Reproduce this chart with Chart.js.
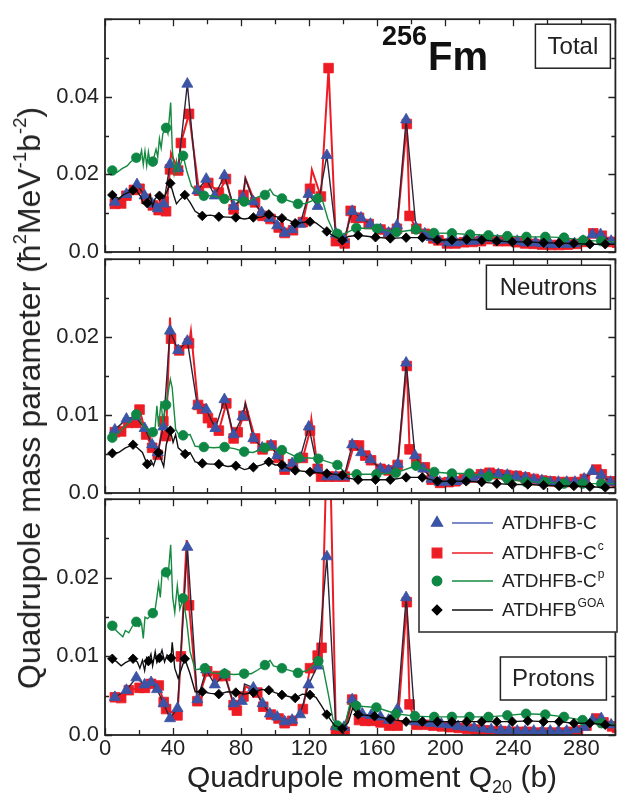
<!DOCTYPE html>
<html>
<head>
<meta charset="utf-8">
<script src="https://cdn.jsdelivr.net/npm/chart.js@4.4.1/dist/chart.umd.min.js"></script>
<style>
  body { margin: 0; background: #fff; }
  #wrap { position: relative; width: 623px; height: 798px; overflow: hidden; background: #fff;
          font-family: "Liberation Sans", Arial, sans-serif; color: #222; }
  canvas.panel { position: absolute; left: 0; }
  #ytitle { position: absolute; left: 29px; top: 398px; white-space: nowrap; font-size: 32px; line-height: 1;
            transform: translate(-50%, -50%) rotate(-90deg); }
  #xtitle { position: absolute; left: 372px; top: 762px; white-space: nowrap; font-size: 30px; line-height: 1;
            transform: translateX(-50%); }
  sup { font-size: 58%; vertical-align: 0.75em; line-height: 0; }
  sub { font-size: 60%; vertical-align: -0.35em; line-height: 0; }
</style>
</head>
<body>
<div id="wrap">
  <canvas id="totalChart" class="panel" width="623" height="275" style="top:0px"></canvas>
  <canvas id="neutronChart" class="panel" width="623" height="275" style="top:240px"></canvas>
  <canvas id="protonChart" class="panel" width="623" height="318" style="top:480px"></canvas>
  <div id="ytitle">Quadrupole mass parameter (ħ<sup>2</sup>MeV<sup>-1</sup>b<sup>-2</sup>)</div>
  <div id="xtitle">Quadrupole moment Q<sub>20</sub> (b)</div>
</div>
<script>
// Each point: [Q20 (b), mass parameter, 1 = marker drawn / 0 = line only]
const Q_MAX = 300;
const X_TICKS = [0, 40, 80, 120, 160, 200, 240, 280];

// ---- Total ----
const totalC = [
  [5.8,.0129,1],[12.6,.0149,1],[18.8,.0174,1],[23.3,.0145,1],[27.7,.0124,1],[31,.0112,1],[34.5,.0124,1],
  [38.2,.0226,1],[43,.0216,1],[48.4,.0433,1],[54.3,.0158,1],[59.5,.0188,1],[64.5,.0145,1],[70.2,.0197,1],
  [75.6,.0118,1],[81,.0141,1],[82.5,.019,0],[87.2,.013,1],[92,.0102,1],[96.9,.0087,1],[101.2,.0068,1],
  [105.6,.0049,1],[110,.0058,1],[114.7,.0072,1],[119.6,.0149,1],[125,.0118,1],[130.4,.0249,1],[135.7,.0047,1],
  [140.5,.0033,1],[145.3,.0105,1],[150.5,.0088,1],[156,.0072,1],[161.9,.0058,1],[166.7,.0049,1],[171.6,.0068,1],
  [177,.0341,1],[182.8,.0062,1],[188,.0047,1],[192,.0038,1],[195.8,.0033,1],[201.6,.0024,1],[206.4,.0024,1],
  [211.3,.0028,1],[216.1,.0028,1],[220,.003,1],[224.8,.0036,1],[230.7,.003,1],[236.5,.0031,1],[242.3,.0028,1],
  [247.1,.0024,1],[253,.0024,1],[256.8,.0022,1],[261.7,.002,1],[266.5,.002,1],[272.3,.002,1],[276,.0022,1],
  [281,.0028,1],[286.5,.0045,1],[291.3,.0045,1],[297.5,.0028,1]
];
const totalCc = [
  [5.8,.0124,1],[9.5,.0125,1],[12.6,.0145,1],[17,.016,1],[20.3,.0163,1],[24.2,.0137,1],[28.1,.012,1],
  [31.5,.0108,1],[34.5,.013,1],[35.9,.0105,1],[38.2,.0213,1],[38.8,.0255,0],[43,.021,1],[44.6,.0281,1],
  [49.4,.0356,1],[55.2,.0158,1],[60.7,.0178,1],[66.9,.0153,1],[71.1,.0188,1],[75.6,.011,1],[81.4,.0147,1],
  [82.5,.019,0],[88.2,.0128,1],[92.6,.0093,1],[97.3,.0085,1],[102.1,.0063,1],[105.6,.0049,1],[110.5,.0056,1],
  [116.3,.0077,1],[120.5,.0163,1],[121.6,.0212,0],[126.9,.0143,1],[131.4,.0474,1],[135.7,.0028,1],[140.9,.0022,1],
  [144.4,.0106,1],[147.3,.0088,1],[149.3,.0088,1],[155,.0072,1],[161.9,.0058,1],[166.7,.0049,1],[171.6,.006,1],
  [177.4,.033,1],[179,.0093,1],[183,.006,1],[188,.0047,1],[193,.0035,1],[196,.003,1],[201,.0022,1],[206,.0022,1],
  [211,.0025,1],[216,.0026,1],[221,.0028,1],[225,.0033,1],[231,.0028,1],[236,.0028,1],[242,.0025,1],[247,.0022,1],
  [252,.0021,1],[257,.0019,1],[262,.0018,1],[267,.0018,1],[272,.0019,1],[277,.0021,1],[282,.0026,1],[287,.0048,1],
  [292,.0042,1],[297,.0026,1],[301,.0024,1]
];
const totalCp = [
  [4.3,.021,1],[7,.0205,0],[10,.0215,0],[13,.0222,0],[15,.0232,0],[18.4,.0243,1],[20,.0235,0],[21.5,.0262,0],
  [22.5,.0225,0],[23.5,.026,0],[24.5,.0222,0],[25.5,.0258,0],[26.5,.023,0],[28.1,.0233,1],[30,.0265,0],
  [31,.0245,0],[32,.0292,0],[33,.0268,0],[34,.0305,0],[35.9,.032,1],[37,.0305,0],[38.6,.0385,0],[39.5,.027,0],
  [40.7,.0203,0],[42,.0235,0],[43,.0205,0],[45.9,.0248,1],[48,.021,0],[50.8,.017,0],[53.3,.0158,0],[58.1,.0145,1],
  [63,.0145,0],[70.2,.0137,1],[76,.0135,0],[81.8,.013,1],[86,.0133,0],[90,.0142,0],[94,.0147,1],[97,.0162,0],
  [99,.0148,0],[104,.0138,1],[108,.0132,0],[113.4,.0124,1],[118,.0125,0],[125,.0138,1],[128,.013,0],[131,.0085,0],
  [134,.0055,0],[136.6,.0047,1],[140,.0045,0],[143,.0052,0],[147.7,.0062,1],[159.9,.006,1],[171.2,.0051,1],
  [182.8,.0058,1],[193.3,.0049,1],[203.9,.0048,1],[214.6,.0045,1],[225.4,.0043,1],[236.5,.0041,1],[247.7,.0039,1],
  [258.8,.0039,1],[269.8,.0037,1],[281,.003,1],[291.7,.0028,1],[300,.0026,0]
];
const totalGOA = [
  [4.3,.0147,1],[8,.0138,0],[11,.0148,0],[16.5,.0159,1],[19,.0155,0],[21,.0143,0],[22.5,.0125,0],[24.8,.0126,1],
  [26.5,.0148,0],[28,.0118,0],[29.5,.0138,0],[32,.0145,1],[34,.0138,0],[35.5,.0147,0],[38.4,.0177,1],[40.5,.0145,0],
  [42,.0124,0],[44,.0135,0],[46.9,.0147,1],[50,.0128,0],[53,.0105,0],[57.2,.0093,1],[62,.0095,0],[66.9,.0091,1],
  [72,.009,0],[76.9,.0089,1],[82,.0085,0],[87.2,.0089,1],[92,.009,0],[96.3,.0097,1],[100,.0092,0],[104,.0087,1],
  [108,.0082,0],[111.8,.0074,1],[116,.0076,0],[120.5,.0078,1],[124,.0075,0],[127,.0065,0],[130.4,.0053,1],
  [134,.0042,0],[139.5,.003,1],[143,.004,0],[148.8,.0043,1],[159,.0038,1],[167.7,.0035,1],[177,.0037,1],
  [186.5,.0037,1],[195.4,.0031,1],[203.9,.0031,1],[212.6,.0032,1],[221.4,.0031,1],[230.3,.0028,1],[239.4,.0026,1],
  [248.5,.0026,1],[257.8,.0024,1],[266.9,.0023,1],[275.6,.0022,1],[285,.002,1],[294,.002,1],[300,.002,0]
];

// ---- Neutrons ----
const neutronC = [
  [5.8,.0081,1],[12.6,.0095,1],[18,.0098,1],[23.3,.0083,1],[27.7,.0062,1],[31,.0052,1],[34.3,.0085,1],
  [38.2,.0208,1],[43,.0183,1],[48.4,.0195,1],[54.3,.0112,1],[59.5,.0107,1],[64.9,.0083,1],[70.2,.012,1],
  [75.6,.0075,1],[80.8,.0098,1],[82.5,.0115,0],[87.2,.007,1],[92.4,.0058,1],[97.5,.0061,1],[101.2,.0048,1],
  [105.6,.0032,1],[110,.0038,1],[114.7,.0045,1],[119.8,.0085,1],[125,.0031,1],[130.4,.0021,1],[135.7,.0021,1],
  [140.5,.0021,1],[145.3,.0062,1],[150.6,.0052,1],[156,.0043,1],[161.9,.0031,1],[166.7,.0029,1],[172.1,.0037,1],
  [177,.0167,1],[182.2,.0048,1],[187.1,.0031,1],[191.9,.0018,1],[196.7,.0014,1],[201.6,.0014,1],[206.4,.0015,1],
  [211.3,.0017,1],[216.1,.002,1],[221,.0023,1],[225.8,.0024,1],[231.2,.0024,1],[236.5,.0023,1],[241.7,.0021,1],
  [247.1,.002,1],[252,.0017,1],[256.8,.0016,1],[261.7,.0014,1],[266.5,.0014,1],[271.4,.0014,1],[276.2,.0014,1],
  [281.6,.0018,1],[286.5,.0028,1],[291.7,.0023,1],[297.1,.0014,1]
];
const neutronCc = [
  [5.8,.0078,1],[9.5,.0079,1],[13.6,.009,1],[18.4,.009,1],[20.3,.0107,1],[24.2,.0075,1],[27.7,.0058,1],
  [31,.0049,1],[34.3,.0092,1],[35.9,.0073,1],[38.2,.0225,0],[38.8,.0198,1],[43.6,.0183,1],[49.4,.0192,1],
  [50.5,.0208,0],[54.7,.0113,1],[57,.0108,1],[60.5,.0096,1],[63,.009,1],[66.9,.008,1],[71.3,.0115,1],
  [75.6,.007,1],[78,.0078,1],[81.4,.0099,1],[82.5,.0115,0],[88.2,.007,1],[92.6,.0056,1],[97.9,.0061,1],
  [102,.0045,1],[105.6,.003,1],[110.5,.0037,1],[116.3,.0045,1],[120.5,.008,1],[121.3,.0095,0],[125,.0031,1],
  [127,.0021,1],[131.4,.0021,1],[135.7,.0021,1],[140.9,.0021,1],[146.3,.0061,1],[149.3,.0061,1],[153,.0048,1],
  [156.4,.0042,1],[161.9,.0031,1],[166.7,.0029,1],[172,.0036,1],[177.4,.0163,1],[179,.0056,1],[183,.0044,1],
  [188,.0033,1],[192,.0017,1],[197,.0013,1],[202,.0014,1],[206,.0015,1],[211,.0018,1],[216,.002,1],[221,.0024,1],
  [226,.0026,1],[231,.0024,1],[236,.0023,1],[242,.0022,1],[247,.002,1],[252,.0018,1],[257,.0016,1],[262,.0015,1],
  [267,.0014,1],[272,.0014,1],[277,.0014,1],[282,.0018,1],[288.8,.003,1],[292,.0024,1],[297,.0015,1],[301,.0014,1]
];
const neutronCp = [
  [4.3,.0071,1],[7,.0075,0],[10,.0082,0],[13,.0088,0],[15,.0092,0],[16.5,.0097,0],[18.4,.0101,1],[21,.0092,0],
  [23,.0085,0],[25,.0082,0],[28.1,.0078,1],[29.5,.0085,0],[30.5,.0112,0],[31.5,.0085,0],[33,.0118,0],[34,.009,0],
  [35.9,.0113,1],[38.4,.0146,0],[39.5,.0135,0],[41.5,.0082,0],[43,.0076,0],[45.9,.0074,1],[50,.0075,0],[53,.006,0],
  [58.1,.0059,1],[64,.0058,0],[70.3,.0059,1],[76,.0057,0],[81.8,.0053,1],[87,.0052,0],[94,.0058,1],[99,.0056,0],
  [104,.0055,1],[109,.005,0],[113.8,.0045,1],[120,.0045,0],[125.4,.0044,1],[131,.004,0],[136.6,.0036,1],
  [142,.0024,0],[147.9,.0024,1],[159.5,.0024,1],[171,.0026,1],[182.8,.0035,1],[193.5,.0027,1],[203.9,.0025,1],
  [214.2,.0025,1],[225.4,.0021,1],[236.5,.0018,1],[247.5,.0014,1],[258.8,.0014,1],[269.8,.0012,1],[280.7,.0012,1],
  [291.7,.0012,1],[300,.0012,0]
];
const neutronGOA = [
  [4.3,.0051,1],[8,.0052,0],[12,.0058,0],[16.5,.0062,1],[19,.0058,0],[22,.0052,0],[24.8,.0037,1],[27,.0042,0],
  [28.5,.0035,0],[30,.0045,0],[31.4,.0052,1],[33,.0043,0],[34.5,.0034,0],[36,.0062,0],[38.4,.008,1],[40,.0065,0],
  [41.5,.0075,0],[43,.0058,0],[47.1,.005,1],[50,.0052,0],[53,.004,0],[57.2,.0038,1],[62,.0037,0],[66.9,.0037,1],
  [72,.0034,0],[76.9,.0035,1],[82,.003,0],[87.2,.0033,1],[92,.0036,0],[96.3,.004,1],[100,.0036,0],[104,.0036,1],
  [108,.0031,0],[111.8,.0029,1],[120.5,.0027,1],[125,.0026,0],[130.4,.0025,1],[139.5,.0023,1],[143,.0019,0],
  [148.8,.0017,1],[159,.0017,1],[167.7,.0017,1],[177,.002,1],[186.5,.002,1],[195.4,.0015,1],[203.9,.0015,1],
  [212.3,.0015,1],[221.4,.0014,1],[230.3,.0012,1],[239.4,.0011,1],[248.5,.0011,1],[257.8,.001,1],[266.9,.0009,1],
  [275.6,.0009,1],[285,.0008,1],[294,.0007,1],[300,.0007,0]
];

// ---- Protons ----
const protonC = [
  [5.8,.0048,1],[12.6,.0057,1],[18.4,.0073,1],[23.3,.0064,1],[27.1,.0067,1],[30.6,.0058,1],[34.5,.004,1],
  [38.2,.0021,1],[42.6,.0034,1],[48.4,.0239,1],[54.3,.0045,1],[59.5,.0083,1],[64.5,.0064,1],[70.2,.0077,1],
  [75.6,.004,1],[80.4,.0043,1],[82,.0065,0],[87.2,.006,1],[92.6,.004,1],[96.9,.0027,1],[101.2,.0023,1],
  [105.6,.0017,1],[110,.0019,1],[114.7,.0026,1],[119.6,.0064,1],[125,.0088,1],[130.4,.0227,1],[135.7,.0011,1],
  [140.5,.001,1],[145.3,.0045,1],[151.2,.0027,1],[156.4,.0025,1],[161.9,.0023,1],[166.7,.0019,1],[171.9,.0033,1],
  [177,.0175,1],[182.2,.0017,1],[187,.0016,1],[191.9,.0015,1],[197.7,.0014,1],[202.6,.0013,1],[207.5,.0011,1],
  [212.3,.001,1],[217,.0009,1],[222,.0008,1],[227,.0007,1],[232.6,.0006,1],[237.5,.0006,1],[242.3,.0005,1],
  [247,.0005,1],[252,.0005,1],[257,.0005,1],[261.7,.0005,1],[266.5,.0005,1],[271.4,.0005,1],[276.5,.0007,1],
  [281.6,.001,1],[286.5,.0019,1],[291.7,.0021,1],[297.5,.0013,1]
];
const protonCc = [
  [5.8,.0048,1],[9.5,.0047,1],[14,.0057,1],[20.3,.006,1],[23.5,.006,1],[27.1,.0065,1],[31.6,.0063,1],
  [34.5,.0042,1],[35.9,.0033,1],[42.6,.0025,1],[44.6,.01,1],[48,.0248,0],[49.4,.0165,1],[54.3,.0043,1],
  [60.1,.0081,1],[66.3,.0075,1],[70.7,.0075,1],[75.6,.0038,1],[77.5,.0031,1],[81.4,.0049,1],[82.5,.0062,0],
  [89.5,.0054,1],[93,.0036,1],[97.5,.0026,1],[102,.0021,1],[105.6,.0015,1],[110,.0018,1],[116.3,.0033,1],
  [120.5,.0085,1],[125,.0101,1],[127.3,.0111,1],[131.4,.045,1],[135.7,.0005,1],[140.9,.0004,1],[145.3,.0045,1],
  [149.3,.0019,1],[153,.0018,1],[157,.0018,1],[162,.0016,1],[167,.0012,1],[172,.0012,1],[177.4,.0169,1],
  [179,.0039,1],[183,.0013,1],[188,.0013,1],[193,.0012,1],[198,.0011,1],[203,.001,1],[208,.0009,1],[213,.0008,1],
  [218,.0007,1],[223,.0006,1],[228,.0005,1],[233,.0005,1],[238,.0004,1],[243,.0004,1],[248,.0004,1],[253,.0003,1],
  [258,.0003,1],[263,.0003,1],[268,.0003,1],[273,.0004,1],[278,.0006,1],[283,.0012,1],[288.8,.0021,1],
  [293,.0016,1],[298,.0011,1],[301,.0009,1]
];
const protonCp = [
  [4.3,.0139,1],[7,.0132,0],[9,.0128,0],[10.5,.0125,0],[12,.0133,0],[14,.013,0],[16,.0138,0],[18.4,.0144,1],
  [20,.0138,0],[21.5,.0142,0],[22.5,.0123,0],[23.5,.015,0],[25,.0148,0],[28.1,.0155,1],[29.5,.016,0],
  [30.5,.0175,0],[31.5,.0192,0],[32.5,.0175,0],[33.5,.0205,0],[35.9,.0207,1],[37,.02,0],[38.6,.0242,0],
  [39.8,.0175,0],[41,.0156,0],[42.5,.019,0],[44,.016,0],[45.9,.0174,1],[48,.0145,0],[50,.0106,0],[53,.0083,0],
  [58.7,.0085,1],[63,.0079,0],[70.3,.0078,1],[76,.0077,0],[81.8,.0078,1],[86,.0078,0],[90,.0083,0],[94,.0089,1],
  [97,.0095,0],[99,.0088,0],[104,.0085,1],[109,.0082,0],[113.4,.0079,1],[119,.0082,0],[125.4,.0094,1],
  [128,.0088,0],[131,.0055,0],[134,.002,0],[136.6,.0012,1],[141,.0012,0],[144,.004,0],[147.7,.0037,1],
  [159.5,.0035,1],[171,.0027,1],[182.2,.0024,1],[193.5,.0023,1],[203.9,.0023,1],[214.2,.0023,1],[225.4,.0023,1],
  [236.5,.0025,1],[247.5,.0027,1],[258.8,.0026,1],[269.8,.0023,1],[280.7,.0019,1],[291.7,.0015,1],[300,.0013,0]
];
const protonGOA = [
  [4.3,.0097,1],[7,.0093,0],[9.5,.0088,0],[12,.0092,0],[16.5,.0097,1],[19,.0093,0],[20.5,.0085,0],[22,.0095,0],
  [23.3,.0082,0],[24.5,.0098,0],[25.5,.0094,1],[27,.0103,0],[28,.0088,0],[29.5,.0106,0],[30.5,.0092,0],
  [32,.0098,1],[33.5,.0108,0],[35,.0093,0],[36.5,.0102,0],[38.8,.0098,1],[39.5,.0118,0],[41,.0085,0],
  [43,.0072,0],[46.9,.0097,1],[50,.0078,0],[53,.0055,0],[57.2,.0055,1],[62,.0053,0],[66.9,.0052,1],[72,.0055,0],
  [76.9,.0054,1],[82,.0052,0],[87.2,.0054,1],[92,.0058,0],[96.3,.0057,1],[100,.0054,0],[104,.0051,1],
  [108,.0049,0],[111.8,.0047,1],[116,.0052,0],[120.5,.0051,1],[124,.0048,0],[127,.0038,0],[130.4,.0026,1],
  [135,.0012,0],[139.5,.0008,1],[143,.0016,0],[145.5,.0034,0],[148.8,.0026,1],[158.4,.0024,1],[167.7,.002,1],
  [177,.0017,1],[186.5,.0017,1],[195.4,.0017,1],[203.9,.0017,1],[212.6,.0017,1],[221.4,.0017,1],[230.3,.0017,1],
  [239.4,.0017,1],[248.5,.0018,1],[257.8,.0017,1],[266.9,.0017,1],[275.6,.0015,1],[285,.0015,1],[294,.0013,1],
  [300,.0012,0]
];

const SERIES_NAMES = [['ATDHFB-C', ''], ['ATDHFB-C', 'c'], ['ATDHFB-C', 'p'], ['ATDHFB', 'GOA']];

// marker / line styles per series, same order as SERIES_NAMES
const STYLES = [
  { color: '#3b54a6', line: '#2e2538', legendLine: '#4f63b8', pointStyle: 'triangle', radius: 6.4, width: 1.4, order: 3 },
  { color: '#ed1c24', line: '#ed1c24', legendLine: '#ed1c24', pointStyle: 'rect', radius: 6.8, width: 2, order: 4 },
  { color: '#0e8744', line: '#168a40', legendLine: '#168a40', pointStyle: 'circle', radius: 4.8, width: 1.4, order: 2 },
  { color: '#000000', line: '#111111', legendLine: '#111111', pointStyle: 'rectRot', radius: 4.8, width: 1.4, order: 1 }
];

const FONT = '"Liberation Sans", Arial, sans-serif';

function buildDataset(points, style) {
  return {
    data: points.map(p => ({ x: p[0], y: p[1] })),
    showLine: true,
    borderColor: style.line,
    borderWidth: style.width,
    backgroundColor: style.color,
    pointBackgroundColor: style.color,
    pointBorderColor: style.color,
    pointBorderWidth: 0.8,
    pointStyle: style.pointStyle,
    pointRadius: ctx => (points[ctx.dataIndex] && points[ctx.dataIndex][2] ? style.radius : 0),
    pointHoverRadius: 0,
    tension: 0,
    order: style.order
  };
}

// inward tick marks on all four sides plus the frame
const frameTicks = {
  id: 'frameTicks',
  afterDraw(chart, args, opts) {
    const { ctx, chartArea: a, scales: { x, y } } = chart;
    ctx.save();
    ctx.strokeStyle = '#222';
    ctx.lineWidth = 1.3;
    ctx.beginPath();
    for (let q = 0; q <= Q_MAX; q += 20) {
      const px = Math.round(x.getPixelForValue(q)) + 0.5;
      const len = q % 40 === 0 ? 7 : 5;
      ctx.moveTo(px, a.top); ctx.lineTo(px, a.top + len);
      ctx.moveTo(px, a.bottom); ctx.lineTo(px, a.bottom - len);
    }
    const n = Math.round(y.max / opts.minor);
    for (let i = 0; i <= n; i++) {
      const py = Math.round(y.getPixelForValue(i * opts.minor)) + 0.5;
      const len = i % 2 === 0 ? 7 : 4;
      ctx.moveTo(a.left, py); ctx.lineTo(a.left + len, py);
      ctx.moveTo(a.right, py); ctx.lineTo(a.right - len, py);
    }
    ctx.stroke();
    ctx.lineWidth = 1.8;
    ctx.strokeRect(a.left, a.top, a.right - a.left, a.bottom - a.top);
    ctx.restore();
  }
};

// boxed panel name ("Total", "Neutrons", "Protons")
const panelBox = {
  id: 'panelBox',
  afterDraw(chart, args, o) {
    if (!o.text) return;
    const { ctx, chartArea: a } = chart;
    const x0 = a.right - o.right - o.w;
    const y0 = o.fromBottom != null ? a.bottom - o.fromBottom - o.h : a.top + o.top;
    ctx.save();
    ctx.fillStyle = '#fff';
    ctx.fillRect(x0, y0, o.w, o.h);
    ctx.lineWidth = 1.5;
    ctx.strokeStyle = '#222';
    ctx.strokeRect(x0, y0, o.w, o.h);
    ctx.fillStyle = '#222';
    ctx.font = '24px ' + FONT;
    ctx.textAlign = 'center';
    ctx.textBaseline = 'middle';
    ctx.fillText(o.text, x0 + o.w / 2, y0 + o.h / 2 + 1);
    ctx.restore();
  }
};

// nucleus label 256Fm
const nucleusLabel = {
  id: 'nucleusLabel',
  afterDraw(chart, args, o) {
    if (!o.show) return;
    const { ctx } = chart;
    ctx.save();
    ctx.fillStyle = '#111';
    ctx.textBaseline = 'alphabetic';
    ctx.font = 'bold 27px ' + FONT;
    ctx.fillText('256', o.x, o.y - 25);
    const w = ctx.measureText('256').width;
    ctx.font = 'bold 40px ' + FONT;
    ctx.fillText('Fm', o.x + w + 1, o.y);
    ctx.restore();
  }
};

// boxed legend inside the proton panel
const legendBox = {
  id: 'legendBox',
  afterDraw(chart, args, o) {
    if (!o.show) return;
    const { ctx } = chart;
    ctx.save();
    ctx.fillStyle = '#fff';
    ctx.fillRect(o.x, o.y, o.w, o.h);
    ctx.lineWidth = 1.6;
    ctx.strokeStyle = '#333';
    ctx.strokeRect(o.x, o.y, o.w, o.h);
    SERIES_NAMES.forEach((name, i) => {
      const st = STYLES[i];
      const cy = o.y + o.rows[i];
      ctx.strokeStyle = st.legendLine;
      ctx.lineWidth = 1.3;
      ctx.beginPath();
      ctx.moveTo(o.x + 33, cy); ctx.lineTo(o.x + 74, cy);
      ctx.stroke();
      ctx.fillStyle = st.color;
      ctx.strokeStyle = st.color;
      Chart.helpers.drawPoint(ctx, { pointStyle: st.pointStyle, radius: st.radius, rotation: 0, borderWidth: 0.8 }, o.x + 18, cy);
      ctx.fillStyle = '#222';
      ctx.textBaseline = 'middle';
      ctx.font = '19px ' + FONT;
      ctx.fillText(name[0], o.x + 83, cy + 1);
      if (name[1]) {
        const w = ctx.measureText(name[0]).width;
        ctx.font = '12px ' + FONT;
        ctx.fillText(name[1], o.x + 84 + w, cy - 6);
      }
    });
    ctx.restore();
  }
};

function makePanel(canvasId, series, yMax, yMajor, yMinor, cfg) {
  const showX = !!cfg.showX;
  return new Chart(document.getElementById(canvasId), {
    type: 'scatter',
    data: { datasets: series.map((s, i) => buildDataset(s, STYLES[i])) },
    options: {
      responsive: false,
      animation: false,
      events: [],
      layout: { padding: cfg.padding },
      scales: {
        x: {
          type: 'linear',
          min: 0,
          max: Q_MAX,
          display: showX,
          grid: { display: false, drawTicks: false },
          border: { display: false },
          afterBuildTicks: scale => { scale.ticks = X_TICKS.map(v => ({ value: v })); },
          ticks: {
            color: '#222',
            font: { family: FONT, size: 22 },
            padding: 1,
            maxRotation: 0,
            autoSkip: false,
            callback: v => String(v)
          },
          afterFit: scale => { scale.height = cfg.xHeight || 0; }
        },
        y: {
          type: 'linear',
          min: 0,
          max: yMax,
          grid: { display: false, drawTicks: false },
          border: { display: false },
          ticks: {
            stepSize: yMajor,
            color: '#222',
            font: { family: FONT, size: 22 },
            padding: 6,
            callback: v => {
              if (v >= yMax - 1e-9) return '';
              if (Math.abs(v) < 1e-9) return '0.0';
              return v.toFixed(2);
            }
          },
          afterFit: scale => { scale.width = 105; }
        }
      },
      plugins: {
        legend: { display: false },
        tooltip: { enabled: false },
        frameTicks: { minor: yMinor },
        panelBox: cfg.box,
        nucleusLabel: cfg.nucleus || { show: false },
        legendBox: cfg.legend || { show: false }
      }
    },
    plugins: [frameTicks, panelBox, nucleusLabel, legendBox]
  });
}

makePanel('totalChart', [totalC, totalCc, totalCp, totalGOA], 0.06, 0.02, 0.01, {
  padding: { top: 12, bottom: 23, left: 0, right: 1 },
  box: { text: 'Total', right: 5, top: 5, w: 75, h: 44 },
  nucleus: { show: true, x: 382, y: 70 }
});

makePanel('neutronChart', [neutronC, neutronCc, neutronCp, neutronGOA], 0.03, 0.01, 0.005, {
  padding: { top: 13, bottom: 22, left: 0, right: 1 },
  box: { text: 'Neutrons', right: 5, top: 6, w: 124, h: 44 }
});

makePanel('protonChart', [protonC, protonCc, protonCp, protonGOA], 0.03, 0.01, 0.005, {
  showX: true,
  xHeight: 63,
  padding: { top: 15, bottom: 0, left: 0, right: 1 },
  box: { text: 'Protons', right: 9, fromBottom: 35, w: 106, h: 43 },
  legend: { show: true, x: 419, y: 20, w: 198, h: 132, rows: [23, 53, 81, 110] }
});
</script>
</body>
</html>
